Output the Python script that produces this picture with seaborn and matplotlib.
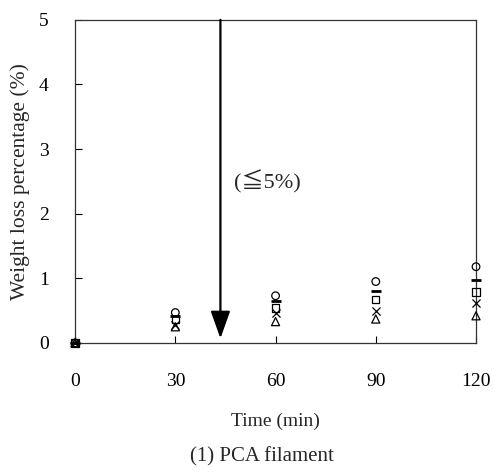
import matplotlib
matplotlib.use("Agg")
import matplotlib.pyplot as plt
import seaborn as sns
import pandas as pd

times = [0, 30, 60, 90, 120]
series_names = ["A", "B", "C", "D", "E"]
circle_vals = [0.0, 0.47, 0.73, 0.95, 1.18]
bar_vals = [0.0, 0.42, 0.65, 0.80, 0.97]
square_vals = [0.0, 0.36, 0.54, 0.67, 0.79]
cross_vals = [0.0, 0.27, 0.46, 0.50, 0.62]
triangle_vals = [0.0, 0.25, 0.33, 0.37, 0.42]
x_ticks = [0, 30, 60, 90, 120]
y_ticks = [0, 1, 2, 3, 4, 5]

sns.set_theme(style="ticks")
plt.rcParams["font.family"] = ["Liberation Serif", "DejaVu Serif", "Noto Sans CJK JP"]

rows = []
for name, vals in zip(series_names, [circle_vals, bar_vals, square_vals, cross_vals, triangle_vals]):
    for t, v in zip(times, vals):
        rows.append({"time": t, "loss": v, "series": name})
df = pd.DataFrame(rows)

fig = plt.figure(figsize=(4.94, 4.73), dpi=100)
ax = fig.add_axes([0.152, 0.275, 0.9636 - 0.152, 0.958 - 0.275])

styles = {
    "A": dict(marker="o", facecolor="none", edgecolor="black", s=30, linewidth=0.9),
    "B": dict(marker="_", color="black", s=60, linewidth=2.0),
    "C": dict(marker="s", facecolor="none", edgecolor="black", s=28, linewidth=0.9),
    "D": dict(marker="x", color="black", s=34, linewidth=0.9),
    "E": dict(marker="^", facecolor="none", edgecolor="black", s=34, linewidth=0.9),
}
for name in series_names:
    sub = df[df["series"] == name]
    sns.scatterplot(data=sub, x="time", y="loss", ax=ax, legend=False, zorder=3,
                    clip_on=False, **styles[name])

ax.annotate("", xy=(43.5, 0.07), xytext=(43.5, 5.0),
            arrowprops=dict(arrowstyle="-|>,head_width=0.5,head_length=1.4", color="black", lw=1.6,
                            mutation_scale=12, shrinkA=0, shrinkB=0))
ax.text(47.5, 2.5, "(≦5%)", fontsize=16, va="center", ha="left",
        family=["Liberation Serif", "Noto Sans CJK JP"])

ax.set_xlim(0, 120)
ax.set_ylim(0, 5)
ax.set_xticks(x_ticks)
ax.set_yticks(y_ticks)
ax.tick_params(direction="in", length=5, width=0.8, labelsize=14, colors="black")
ax.tick_params(axis="x", pad=22)
ax.tick_params(axis="y", pad=19)
for sp in ax.spines.values():
    sp.set_visible(True)
    sp.set_color("#333333")
    sp.set_linewidth(0.9)
ax.set_xlabel("Time (min)", fontsize=14, labelpad=16)
ax.set_ylabel("Weight loss percentage (%)", fontsize=15.5, labelpad=6)
fig.text(0.53, 0.035, "(1) PCA filament", fontsize=15, ha="center", va="center")

fig.savefig("out.png", dpi=100)
